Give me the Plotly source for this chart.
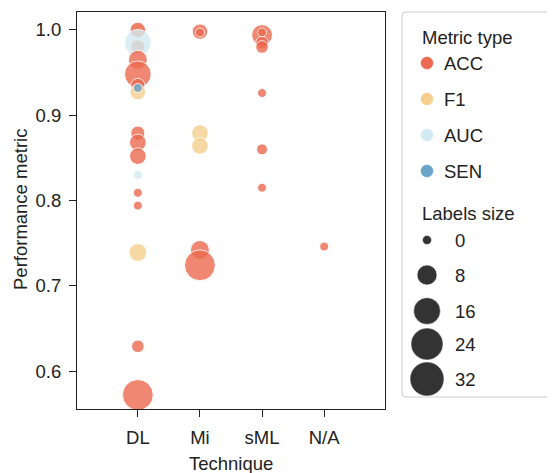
import numpy as np
import plotly.graph_objects as go

# page is 555x473 but the browser body adds an 8px margin
OFF = 8
WF, HF = 555 - OFF, 473 - OFF

# ---------------- data ----------------
techniques = ["DL", "Mi", "sML", "N/A"]
metric_types = ["ACC", "F1", "AUC", "SEN"]
metric_colors = ["#EC6A50", "#F4CF8E", "#D2EBF2", "#6BA4C9"]
size_ticks = [0, 8, 16, 24, 32]
y_ticks = [0.6, 0.7, 0.8, 0.9, 1.0]

point_technique = [
    "DL", "DL", "DL", "DL", "DL", "DL", "DL", "DL", "DL", "DL", "DL", "DL",
    "DL", "DL", "DL", "DL", "DL", "DL",
    "Mi", "Mi", "Mi", "Mi", "Mi", "Mi",
    "sML", "sML", "sML", "sML", "sML", "sML", "sML",
    "N/A",
]
point_metric = [
    "F1", "ACC", "ACC", "AUC", "ACC", "ACC", "ACC", "F1", "SEN", "ACC", "ACC", "ACC",
    "AUC", "ACC", "ACC", "F1", "ACC", "ACC",
    "ACC", "ACC", "F1", "F1", "ACC", "ACC",
    "ACC", "ACC", "ACC", "ACC", "ACC", "ACC", "ACC",
    "ACC",
]
point_value = [
    0.999, 1.000, 0.980, 0.985, 0.965, 0.948, 0.935, 0.927, 0.932, 0.879, 0.868, 0.852,
    0.830, 0.809, 0.794, 0.739, 0.629, 0.572,
    0.998, 0.997, 0.879, 0.864, 0.742, 0.724,
    0.994, 0.997, 0.985, 0.980, 0.926, 0.860, 0.815,
    0.746,
]
point_label_size = [
    4, 4, 3, 16, 7, 16, 3, 4, 0, 3, 5, 5,
    0, 0, 0, 6, 2, 22,
    4, 0, 5, 5, 7, 22,
    9, 0, 2, 2, 0, 1, 0,
    0,
]


def size_to_px(s):
    s = np.asarray(s, dtype=float)
    return np.minimum(np.sqrt(81 + 39.5 * s), 34)


color_of = dict(zip(metric_types, metric_colors))
FONT = "Liberation Sans, Arial, Helvetica, sans-serif"
TXT = "#222222"
FS = 18.5

fig = go.Figure()

# main scatter
fig.add_trace(go.Scatter(
    x=point_technique, y=point_value, mode="markers",
    marker=dict(size=size_to_px(point_label_size),
                color=[color_of[m] for m in point_metric],
                opacity=0.8, line=dict(color="white", width=1)),
    showlegend=False, hoverinfo="skip", xaxis="x", yaxis="y",
))

# ---------------- legend (drawn on a page-pixel overlay axis) ----------------
leg_marker_x = 427
metric_rows_y = [63 + 36 * i for i in range(len(metric_types))]
size_rows_y = [240, 275, 311, 344, 379]

fig.add_trace(go.Scatter(
    x=[leg_marker_x] * len(metric_types), y=metric_rows_y, mode="markers",
    marker=dict(size=13, color=metric_colors, opacity=1,
                line=dict(color="white", width=0.5)),
    showlegend=False, hoverinfo="skip", xaxis="x2", yaxis="y2",
))
fig.add_trace(go.Scatter(
    x=[leg_marker_x] * len(size_ticks), y=size_rows_y, mode="markers",
    marker=dict(size=size_to_px(size_ticks), color="#333333", opacity=1,
                line=dict(color="white", width=0.5)),
    showlegend=False, hoverinfo="skip", xaxis="x2", yaxis="y2",
))

annotations = []


def ann(x, y, text, **kw):
    d = dict(x=x, y=y, text=text, xref="x2", yref="y2", showarrow=False,
             font=dict(family=FONT, size=FS, color=TXT), xanchor="left", yanchor="middle")
    d.update(kw)
    annotations.append(d)


ann(420, 37, "Metric type")
for m, yy in zip(metric_types, metric_rows_y):
    ann(442, yy, m)
ann(420, 213, "Labels size")
for s, yy in zip(size_ticks, size_rows_y):
    ann(453, yy, str(s))

# axis titles
ann(231, 463, "Technique", xanchor="center")
ann(20, 210, "Performance metric", xanchor="center", textangle=-90)

r = 4
x0, y0, x1, y1 = 402, 12, 575, 397
box_path = (f"M {x0 + r},{y0} L {x1},{y0} L {x1},{y1} L {x0 + r},{y1} "
            f"Q {x0},{y1} {x0},{y1 - r} L {x0},{y0 + r} Q {x0},{y0} {x0 + r},{y0} Z")

fig.update_layout(
    width=WF, height=HF,
    margin=dict(l=0, r=0, t=0, b=0, pad=0),
    paper_bgcolor="white", plot_bgcolor="rgba(0,0,0,0)",
    font=dict(family=FONT, size=FS, color=TXT),
    xaxis=dict(type="category", categoryorder="array", categoryarray=techniques,
               range=[-0.98, 3.98], domain=[(77 - OFF) / WF, (385 - OFF) / WF], anchor="y",
               showline=True, mirror=True, linecolor="#222222", linewidth=1,
               ticks="outside", ticklen=7, tickcolor="#222222", tickwidth=1,
               showgrid=False, zeroline=False, automargin=False,
               tickfont=dict(family=FONT, size=FS, color=TXT), ticklabelstandoff=5),
    yaxis=dict(range=[0.5555, 1.021],
               domain=[(473 - 409) / HF, (473 - 12) / HF], anchor="x",
               tickvals=y_ticks, ticktext=[f"{v:.1f}" for v in y_ticks],
               showline=True, mirror=True, linecolor="#222222", linewidth=1,
               ticks="outside", ticklen=7, tickcolor="#222222", tickwidth=1,
               showgrid=False, zeroline=False, automargin=False,
               tickfont=dict(family=FONT, size=FS, color=TXT), ticklabelstandoff=4),
    xaxis2=dict(domain=[0, 1], range=[OFF, OFF + WF], anchor="y2", visible=False, fixedrange=True),
    yaxis2=dict(domain=[0, 1], range=[OFF + HF, OFF], anchor="x2", visible=False, fixedrange=True),
    shapes=[dict(type="path", path=box_path, xref="x2", yref="y2",
                 line=dict(color="#cccccc", width=1), fillcolor="rgba(0,0,0,0)",
                 layer="below")],
    annotations=annotations,
    showlegend=False,
)

fig.write_html("out.html")
